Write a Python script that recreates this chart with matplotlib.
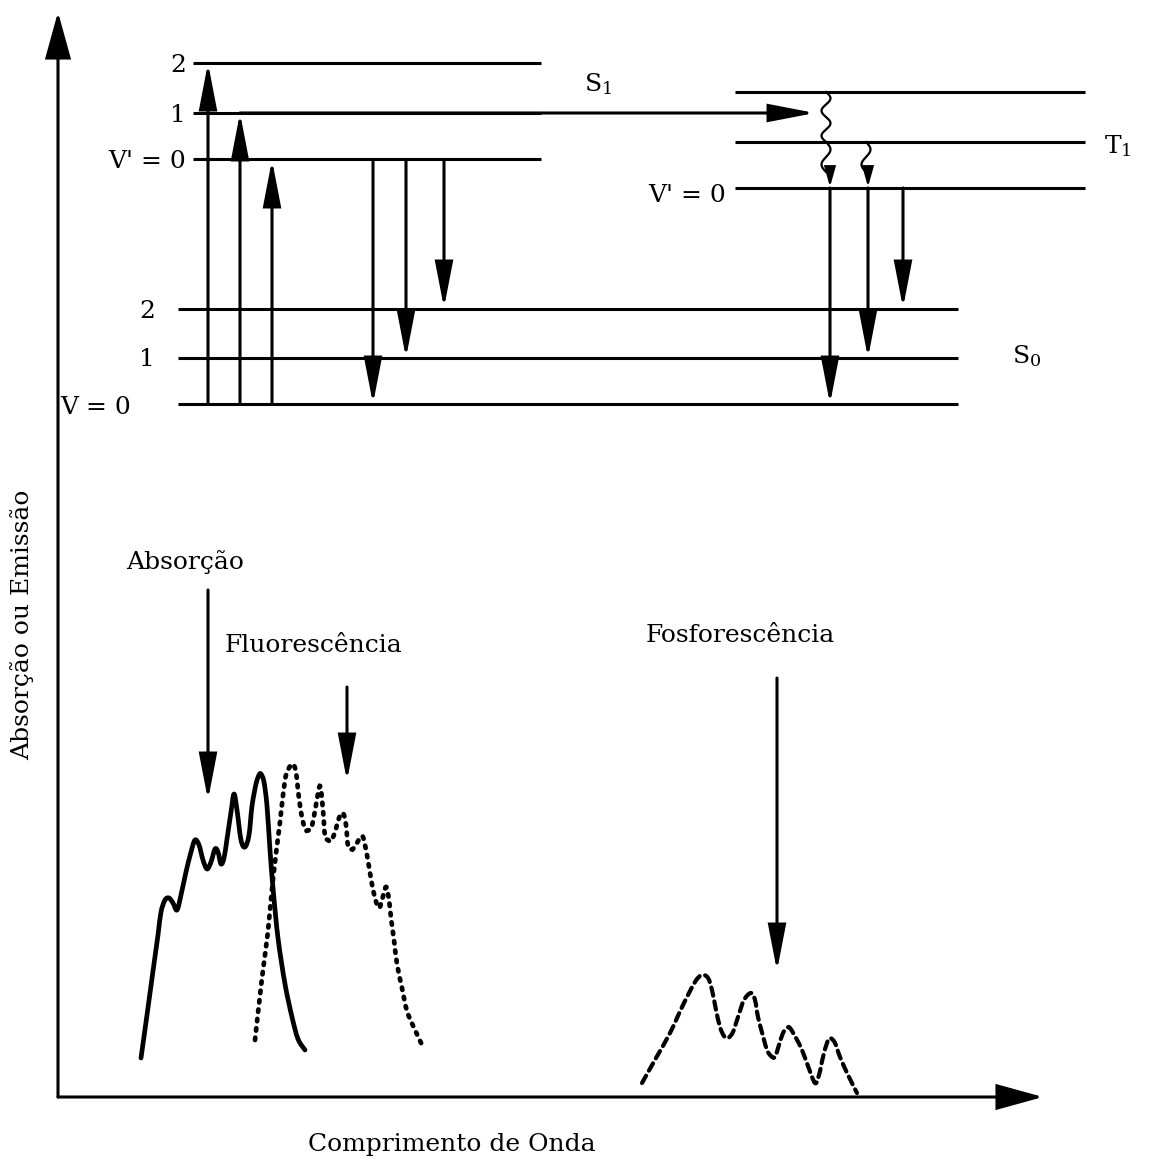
import numpy as np
import matplotlib
matplotlib.use('Agg')
from matplotlib import pyplot as plt
from matplotlib.patches import FancyArrowPatch, PathPatch
from matplotlib.path import Path

plt.rcParams['font.family'] = ['DejaVu Serif']
plt.rcParams['mathtext.fontset'] = 'dejavuserif'

# energy levels (y in pixels of the picture, x start / end)
s1_levels = [63, 113, 159]
s1_labels = ['2', '1', "V' = 0"]
s1_x = (193, 541)
s0_levels = [309, 358, 404]
s0_labels = ['2', '1', 'V = 0']
s0_x = (178, 958)
t1_levels = [92, 142, 188]
t1_x = (735, 1085)

# transitions: (x, y_from, y_to)
absorb = [(208, 404, 63), (240, 404, 113), (272, 404, 160)]
fluor = [(373, 160, 404), (406, 160, 358), (444, 160, 308)]
phos = [(830, 188, 404), (868, 188, 358), (903, 188, 308)]

# spectra
abs_x = [141, 147, 153, 158, 161, 165, 169, 173, 177, 181, 186, 191, 195, 199, 203, 207,
         211, 215, 218, 221, 224, 227, 231, 234, 237, 241, 245, 249, 252, 256, 259, 261,
         264, 267, 270, 273, 278, 285, 292, 298, 305]
abs_y = [1058, 1015, 971, 935, 912, 900, 898, 903, 910, 895, 872, 852, 840, 845, 860, 869,
         862, 849, 852, 864, 858, 839, 812, 794, 810, 840, 847, 835, 806, 784, 775, 774,
         782, 806, 850, 888, 938, 984, 1017, 1039, 1050]
fl_x = [255, 262, 268, 273, 280, 285, 289, 293, 296, 298, 301, 305, 309, 312, 316, 320,
        323, 325, 328, 331, 335, 339, 343, 346, 348, 351, 353, 357, 360, 363, 367, 371,
        375, 379, 382, 386, 389, 391, 394, 397, 402, 407, 415, 424]
fl_y = [1040, 978, 931, 879, 822, 780, 768, 764, 772, 790, 812, 829, 830, 826, 805, 786,
        810, 836, 840, 841, 832, 818, 813, 825, 846, 849, 849, 843, 838, 837, 855, 879,
        898, 908, 900, 887, 900, 918, 940, 964, 988, 1011, 1030, 1049]
ph_x = [642, 656, 670, 683, 695, 702, 708, 712, 716, 720, 724, 728, 733, 738, 744, 751,
        755, 758, 763, 767, 771, 775, 779, 783, 787, 790, 796, 802, 808, 815, 819, 823,
        827, 830, 835, 840, 848, 857]
ph_y = [1083, 1058, 1033, 1005, 982, 975, 978, 990, 1010, 1027, 1036, 1038, 1032, 1017, 1000, 993,
        1000, 1017, 1036, 1050, 1056, 1057, 1045, 1033, 1028, 1028, 1038, 1050, 1066, 1083, 1075, 1057,
        1043, 1038, 1043, 1057, 1075, 1093]

fig = plt.figure(figsize=(11.65, 11.61), dpi=100)
ax = fig.add_axes([0, 0, 1, 1])
ax.set_xlim(0, 1165)
ax.set_ylim(1161, 0)
ax.axis('off')

LW = 2.2
FS = 18


def arrow(x0, y0, x1, y1, hl=1.4, hw=0.27, ms=20, lw=LW):
    a = FancyArrowPatch((x0, y0), (x1, y1),
                        arrowstyle='-|>,head_length=%g,head_width=%g' % (hl, hw),
                        mutation_scale=ms, lw=lw, color='black',
                        shrinkA=0, shrinkB=0, joinstyle='miter')
    ax.add_patch(a)


def smooth_curve(xs, ys, **kw):
    # catmull-rom through the traced points, drawn as bezier segments
    p = np.column_stack([xs, ys]).astype(float)
    p = np.vstack([p[0], p, p[-1]])
    verts = [p[1]]
    codes = [Path.MOVETO]
    for i in range(1, len(p) - 2):
        c1 = p[i] + (p[i + 1] - p[i - 1]) / 6
        c2 = p[i + 1] - (p[i + 2] - p[i]) / 6
        verts += [c1, c2, p[i + 1]]
        codes += [Path.CURVE4] * 3
    ax.add_patch(PathPatch(Path(verts, codes), fill=False, color='black', **kw))


# axes arrows
arrow(58, 1097, 58, 12, hl=1.45, hw=0.4)
arrow(58, 1097, 1043, 1097, hl=1.45, hw=0.4)

# levels
for y in s1_levels:
    ax.plot(s1_x, [y, y], color='black', lw=LW, solid_capstyle='butt')
for y in s0_levels:
    ax.plot(s0_x, [y, y], color='black', lw=LW, solid_capstyle='butt')
for y in t1_levels:
    ax.plot(t1_x, [y, y], color='black', lw=LW, solid_capstyle='butt')

# level labels
for y, t in zip(s1_levels, s1_labels):
    ax.text(186, y + 2, t, ha='right', va='center', fontsize=FS)
for y, t in zip(s0_levels[:2], s0_labels[:2]):
    ax.text(155, y + 2, t, ha='right', va='center', fontsize=FS)
ax.text(131, s0_levels[2] + 3, s0_labels[2], ha='right', va='center', fontsize=FS)
ax.text(726, t1_levels[2] + 8, "V' = 0", ha='right', va='center', fontsize=FS)
ax.text(584, 84, r'S$_1$', ha='left', va='center', fontsize=FS)
ax.text(1104, 146, r'T$_1$', ha='left', va='center', fontsize=FS)
ax.text(1012, 356, r'S$_0$', ha='left', va='center', fontsize=FS)

# vertical transitions
for x, y0, y1 in absorb + fluor + phos:
    arrow(x, y0, x, y1)

# intersystem crossing
arrow(240, 113, 815, 113)


# wavy relaxation
def wavy(x, y0, y1, n):
    t = np.linspace(0, 1, 200)
    ys = y0 + (y1 - y0) * t
    xs = x + 4.5 * np.sin(2 * np.pi * n * t)
    ax.plot(xs, ys, color='black', lw=1.6)


wavy(826, 92, 142, 2)
wavy(826, 142, 172, 1)
arrow(830, 170, 830, 187, hl=1.0, hw=0.28, ms=12, lw=1.6)
wavy(866, 142, 172, 1)
arrow(868, 170, 868, 187, hl=1.0, hw=0.28, ms=12, lw=1.6)

# spectra
smooth_curve(abs_x, abs_y, lw=3.4, joinstyle='round', capstyle='round')
smooth_curve(fl_x, fl_y, lw=3.4, ls=(0, (0.5, 1.5)), capstyle='round')
smooth_curve(ph_x, ph_y, lw=3.0, ls=(0, (2.0, 1.4)), capstyle='round')

# annotation arrows
ax.text(185, 562, 'Absorção', ha='center', va='center', fontsize=FS)
arrow(208, 590, 208, 800)
ax.text(313, 646, 'Fluorescência', ha='center', va='center', fontsize=FS)
arrow(347, 687, 347, 781)
ax.text(740, 636, 'Fosforescência', ha='center', va='center', fontsize=FS)
arrow(777, 678, 777, 971)

ax.text(452, 1145, 'Comprimento de Onda', ha='center', va='center', fontsize=FS)
ax.text(22, 625, 'Absorção ou Emissão', ha='center', va='center', rotation=90, fontsize=FS)

fig.savefig('out.png', dpi=100)
